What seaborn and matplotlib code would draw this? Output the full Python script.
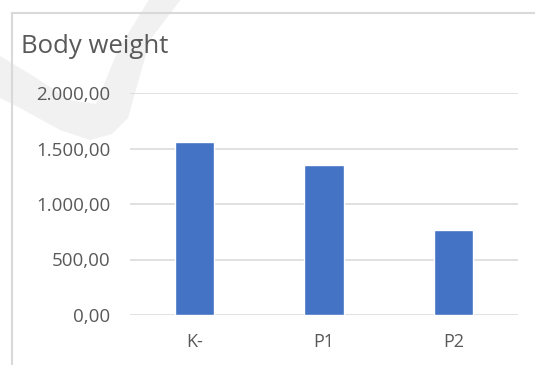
import matplotlib
matplotlib.use("Agg")
import matplotlib.pyplot as plt
from matplotlib.patches import Polygon
from matplotlib.ticker import FuncFormatter
import pandas as pd
import seaborn as sns

# Body weight per group
groups = ["K-", "P1", "P2"]
weights = [1558, 1350, 766]
y_ticks = [0, 500, 1000, 1500, 2000]

sns.set_theme(style="white")
plt.rcParams["font.family"] = ["Open Sans", "DejaVu Sans"]

text_grey = "#595959"
grid_grey = "#d9d9d9"
bar_blue = "#4472c4"

W, H = 535, 365
fig = plt.figure(figsize=(W / 100, H / 100), dpi=100)
fig.patch.set_facecolor("white")

def fx(px):
    return px / W

def fy(py):
    return 1 - py / H

# faint check-shaped mark in the background
mark = [(0, 56), (30, 74), (70, 100), (96, 104), (118, 50), (150, -2), (182, -2),
        (150, 40), (128, 118), (112, 134), (90, 140), (60, 130), (20, 108), (0, 98)]
fig.patches.append(Polygon([(fx(x), fy(y)) for x, y in mark], closed=True,
                           transform=fig.transFigure, facecolor="#f1f1f1",
                           edgecolor="none", zorder=-5))

# chart area frame (left and top edges)
fig.add_artist(plt.Line2D([fx(12), fx(12)], [fy(13), 0], transform=fig.transFigure,
                          color=grid_grey, lw=1.5, zorder=1))
fig.add_artist(plt.Line2D([fx(12), 1], [fy(13), fy(13)], transform=fig.transFigure,
                          color=grid_grey, lw=1.5, zorder=1))

ax = fig.add_axes([fx(130), fy(315), fx(518) - fx(130), fy(93) - fy(315)])
ax.set_zorder(2)
ax.patch.set_alpha(0)

df = pd.DataFrame({"group": groups, "weight": weights})
sns.barplot(data=df, x="group", y="weight", color=bar_blue, width=0.306,
            saturation=1, ax=ax, zorder=3)

ax.set_xlim(-0.5, 2.5)
ax.set_ylim(0, 2000)
ax.set_yticks(y_ticks)
ax.yaxis.set_major_formatter(FuncFormatter(
    lambda v, _: f"{v:,.2f}".replace(",", "X").replace(".", ",").replace("X", ".")))
ax.grid(axis="y", color=grid_grey, lw=1.1, zorder=0)
ax.set_axisbelow(True)
for s in ax.spines.values():
    s.set_visible(False)
ax.set_xlabel("")
ax.set_ylabel("")
ax.tick_params(axis="y", length=0, pad=14, labelsize=13.5, labelcolor=text_grey)
ax.tick_params(axis="x", length=0, pad=13, labelsize=13, labelcolor=text_grey)

fig.text(fx(21), fy(53), "Body weight", fontsize=18.5, color=text_grey,
         ha="left", va="baseline", zorder=3)

fig.savefig("out.png", dpi=100, facecolor="white")
